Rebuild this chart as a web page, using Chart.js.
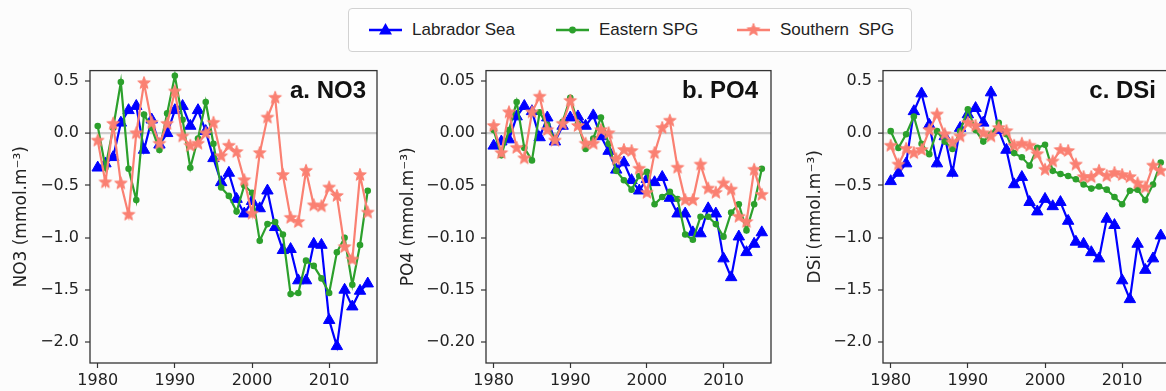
<!DOCTYPE html>
<html><head><meta charset="utf-8">
<script src="https://cdn.jsdelivr.net/npm/chart.js@4.4.0/dist/chart.umd.min.js"></script>
<style>
html,body{margin:0;padding:0;background:#fcfcfc;width:1166px;height:391px;overflow:hidden;position:relative;font-family:'Liberation Sans',Arial,sans-serif;}
canvas.panel{position:absolute;}
#legend{position:absolute;left:348px;top:8px;width:564px;height:44px;border:1px solid #d2d2d2;border-radius:4px;background:#fefefe;box-sizing:border-box;}
.item{position:absolute;top:0;height:42px;display:flex;align-items:center;font-size:17px;color:#222;white-space:pre;}
.item canvas{margin-right:10px;}
</style></head><body>
<div id="legend">
  <div class="item" style="left:20px"><canvas id="lg0" width="33" height="20"></canvas>Labrador Sea</div>
  <div class="item" style="left:207px"><canvas id="lg1" width="33" height="20"></canvas>Eastern SPG</div>
  <div class="item" style="left:388px"><canvas id="lg2" width="33" height="20"></canvas>Southern  SPG</div>
</div>
<canvas id="pa" class="panel"></canvas>
<canvas id="pb" class="panel"></canvas>
<canvas id="pc" class="panel"></canvas>
<script>
// ---------- data ----------
const years = [1980,1981,1982,1983,1984,1985,1986,1987,1988,1989,1990,1991,1992,1993,1994,1995,1996,1997,1998,1999,2000,2001,2002,2003,2004,2005,2006,2007,2008,2009,2010,2011,2012,2013,2014,2015];
const xTicks = [1980,1990,2000,2010];
const yTicksNO3 = [-2.0,-1.5,-1.0,-0.5,0.0,0.5];
const yTicksPO4 = [-0.20,-0.15,-0.10,-0.05,0.00,0.05];
const yTicksDSi = [-2.0,-1.5,-1.0,-0.5,0.0,0.5];
const seriesNames = ['Labrador Sea','Eastern SPG','Southern  SPG'];

const labNO3 = [-0.33,-0.29,-0.23,0.10,0.22,0.26,-0.16,0.13,-0.11,0.00,0.22,0.26,0.07,0.22,0.02,-0.24,-0.47,-0.38,-0.63,-0.77,-0.65,-0.72,-0.55,-0.90,-1.12,-1.11,-1.41,-1.41,-1.06,-1.07,-1.79,-2.04,-1.50,-1.66,-1.51,-1.44];
const easNO3 = [0.07,-0.33,0.05,0.49,-0.34,-0.64,0.18,0.05,-0.16,0.19,0.55,0.13,-0.33,-0.05,0.30,-0.10,-0.52,-0.60,-0.75,-0.50,-0.57,-1.03,-0.87,-0.85,-0.97,-1.54,-1.53,-1.22,-1.27,-1.39,-1.53,-1.14,-1.00,-1.45,-1.07,-0.55];
const souNO3 = [-0.07,-0.47,0.09,-0.48,-0.78,0.00,0.48,0.10,-0.10,0.09,0.40,-0.03,-0.12,-0.10,0.00,0.10,-0.22,-0.12,-0.18,-0.45,-0.77,-0.19,0.15,0.34,-0.40,-0.81,-0.85,-0.36,-0.69,-0.70,-0.52,-0.60,-1.09,-1.21,-0.40,-0.76];

const labPO4 = [-0.012,-0.008,-0.006,0.016,0.026,0.021,-0.004,0.015,-0.008,0.007,0.015,0.016,0.007,0.017,-0.003,-0.017,-0.035,-0.028,-0.045,-0.055,-0.044,-0.047,-0.042,-0.062,-0.077,-0.077,-0.095,-0.096,-0.072,-0.077,-0.120,-0.138,-0.099,-0.114,-0.106,-0.095];
const easPO4 = [0.003,-0.021,0.003,0.030,-0.014,-0.026,0.020,0.008,-0.007,0.011,0.034,0.009,-0.015,-0.005,0.015,-0.010,-0.036,-0.045,-0.054,-0.041,-0.037,-0.068,-0.061,-0.056,-0.063,-0.097,-0.102,-0.080,-0.080,-0.087,-0.099,-0.076,-0.068,-0.093,-0.068,-0.034];
const souPO4 = [0.007,-0.019,0.020,-0.014,-0.024,0.020,0.035,0.003,-0.007,0.009,0.031,0.007,-0.010,-0.010,0.003,0.000,-0.025,-0.016,-0.017,-0.034,-0.057,-0.019,0.005,0.012,-0.033,-0.064,-0.064,-0.030,-0.053,-0.057,-0.048,-0.054,-0.080,-0.085,-0.035,-0.059];

const labDSi = [-0.46,-0.38,-0.29,0.21,0.38,0.08,-0.29,-0.03,-0.38,0.05,0.18,0.24,0.10,0.39,0.03,-0.16,-0.49,-0.42,-0.66,-0.75,-0.63,-0.70,-0.66,-0.84,-1.04,-1.06,-1.14,-1.20,-0.82,-0.88,-1.41,-1.59,-1.06,-1.31,-1.20,-0.98];
const easDSi = [0.02,-0.14,-0.01,0.16,-0.10,-0.20,0.02,-0.08,-0.15,0.02,0.23,0.03,-0.08,-0.01,0.10,-0.01,-0.19,-0.23,-0.31,-0.14,-0.11,-0.36,-0.39,-0.41,-0.44,-0.49,-0.53,-0.51,-0.54,-0.61,-0.68,-0.55,-0.54,-0.64,-0.49,-0.28];
const souDSi = [-0.12,-0.30,-0.15,-0.19,-0.16,0.03,0.18,-0.01,-0.09,-0.03,0.10,0.07,0.00,-0.03,0.05,0.02,-0.12,-0.10,-0.12,-0.20,-0.35,-0.27,-0.16,-0.17,-0.30,-0.42,-0.42,-0.36,-0.41,-0.38,-0.40,-0.42,-0.48,-0.52,-0.31,-0.36];

// ---------- styles ----------
const COLORS = ['#0000ff','#2ca02c','#fa8072'];
const TICK_FONT = {family:"'DejaVu Sans', sans-serif", size:16};
const TEXT_COLOR = '#222222';
const FRAME_COLOR = '#333333';

function makeStar(color, R) {
  const c = document.createElement('canvas');
  const s = Math.ceil(R*2)+2;
  c.width = s; c.height = s;
  const g = c.getContext('2d');
  const cx = s/2, cy = s/2, r = R*0.42;
  g.beginPath();
  for (let i = 0; i < 10; i++) {
    const rad = (i % 2 === 0) ? R : r;
    const a = -Math.PI/2 + i*Math.PI/5;
    const px = cx + rad*Math.cos(a), py = cy + rad*Math.sin(a);
    if (i === 0) g.moveTo(px, py); else g.lineTo(px, py);
  }
  g.closePath();
  g.fillStyle = color; g.fill();
  g.lineWidth = 1; g.strokeStyle = color; g.stroke();
  return c;
}
const starImg = makeStar(COLORS[2], 6.6);

// legend icons
(function(){
  const styles = ['triangle','circle','star'];
  for (let i = 0; i < 3; i++) {
    const c = document.getElementById('lg'+i), g = c.getContext('2d');
    g.strokeStyle = COLORS[i]; g.lineWidth = 2.5;
    g.beginPath(); g.moveTo(0,10); g.lineTo(33,10); g.stroke();
    g.fillStyle = COLORS[i];
    if (styles[i] === 'triangle') {
      g.beginPath(); g.moveTo(16.5,3); g.lineTo(23,14.5); g.lineTo(10,14.5); g.closePath(); g.fill();
    } else if (styles[i] === 'circle') {
      g.beginPath(); g.arc(16.5,10,3.4,0,Math.PI*2); g.fill();
    } else {
      g.drawImage(starImg, 16.5 - starImg.width/2, 10 - starImg.height/2);
    }
  }
})();

const framePlugin = {
  id:'frame',
  afterDatasetsDraw(chart, args, opts) {
    const {ctx, chartArea:a} = chart;
    ctx.save();
    ctx.strokeStyle = FRAME_COLOR; ctx.lineWidth = 1.3;
    ctx.strokeRect(a.left, a.top, a.right - a.left, a.bottom - a.top);
    ctx.font = "bold 24px 'Liberation Sans', Arial, sans-serif";
    ctx.fillStyle = '#111';
    ctx.textAlign = 'right'; ctx.textBaseline = 'middle';
    ctx.fillText(opts.text, a.right - opts.dx, a.top + 21);
    ctx.restore();
  }
};

const YW = 90, PT = 12, PR = 12, XH = 30;

function makePanel(id, p) {
  const cv = document.getElementById(id);
  const W = YW + p.plotW + PR, H = PT + p.plotH + XH;
  cv.width = W; cv.height = H;
  cv.style.width = W + 'px'; cv.style.height = H + 'px';
  cv.style.left = (p.plotLeft - YW) + 'px';
  cv.style.top = (p.plotTop - PT) + 'px';
  const mk = vals => vals.map((v, k) => ({x: years[k], y: v}));
  const datasets = [
    {label:seriesNames[0], data:mk(p.series[0]), borderColor:COLORS[0], backgroundColor:COLORS[0], borderWidth:2.2,
     pointStyle:'triangle', pointRadius:6.6, pointBorderWidth:1, order:2},
    {label:seriesNames[1], data:mk(p.series[1]), borderColor:COLORS[1], backgroundColor:COLORS[1], borderWidth:2.2,
     pointStyle:'circle', pointRadius:3.3, pointBorderWidth:0, order:1},
    {label:seriesNames[2], data:mk(p.series[2]), borderColor:COLORS[2], backgroundColor:COLORS[2], borderWidth:2.2,
     pointStyle:starImg, pointRadius:7, order:0}
  ];
  const fmt = v => (Math.abs(v) < 1e-9 ? (0).toFixed(p.dec) : v.toFixed(p.dec)).replace('-', '\u2212');
  return new Chart(cv, {
    type:'line',
    data:{datasets},
    options:{
      responsive:false, animation:false, devicePixelRatio:1,
      layout:{padding:{left:0, top:PT, right:PR, bottom:0}},
      plugins:{legend:{display:false}, tooltip:{enabled:false}, frame:{text:p.title, dx:p.titleDx}},
      elements:{line:{tension:0}},
      scales:{
        x:{type:'linear', min:1979, max:2016.2,
           afterFit(s){ s.height = XH; },
           afterBuildTicks(s){ s.ticks = xTicks.map(v => ({value:v})); },
           grid:{drawOnChartArea:false, drawTicks:true, tickLength:5, tickColor:FRAME_COLOR, tickWidth:1.2},
           border:{display:false},
           ticks:{font:TICK_FONT, color:TEXT_COLOR, padding:3, maxRotation:0, callback:v => String(v)}},
        y:{type:'linear', min:p.ymin, max:p.ymax,
           afterFit(s){ s.width = YW; },
           afterBuildTicks(s){ s.ticks = p.yTicks.map(v => ({value:v})); },
           grid:{drawOnChartArea:true, drawTicks:true, tickLength:5, tickColor:FRAME_COLOR, tickWidth:1.2,
                 color:c => (c.tick && Math.abs(c.tick.value) < 1e-9) ? '#cccccc' : 'rgba(0,0,0,0)',
                 lineWidth:c => (c.tick && Math.abs(c.tick.value) < 1e-9) ? 2.2 : 0},
           border:{display:false},
           ticks:{font:TICK_FONT, color:TEXT_COLOR, padding:6, callback:v => fmt(v)},
           title:{display:true, text:p.yTitle, color:TEXT_COLOR, font:{family:"'DejaVu Sans', sans-serif", size:17}, padding:{top:p.titlePad, bottom:0}}}
      }
    },
    plugins:[framePlugin]
  });
}

makePanel('pa', {plotLeft:90, plotTop:67, plotW:287, plotH:296, ymin:-2.2, ymax:0.6, yTicks:yTicksNO3, dec:1,
  yTitle:'NO3 (mmol.m\u207B\u00B3)', titlePad:11, title:'a. NO3', titleDx:11, series:[labNO3, easNO3, souNO3]});
makePanel('pb', {plotLeft:486, plotTop:67, plotW:285, plotH:296, ymin:-0.22, ymax:0.06, yTicks:yTicksPO4, dec:2,
  yTitle:'PO4 (mmol.m\u207B\u00B3)', titlePad:2.5, title:'b. PO4', titleDx:13, series:[labPO4, easPO4, souPO4]});
makePanel('pc', {plotLeft:883, plotTop:67, plotW:287, plotH:296, ymin:-2.2, ymax:0.6, yTicks:yTicksDSi, dec:1,
  yTitle:'DSi (mmol.m\u207B\u00B3)', titlePad:12, title:'c. DSi', titleDx:14, series:[labDSi, easDSi, souDSi]});
</script>
</body></html>
